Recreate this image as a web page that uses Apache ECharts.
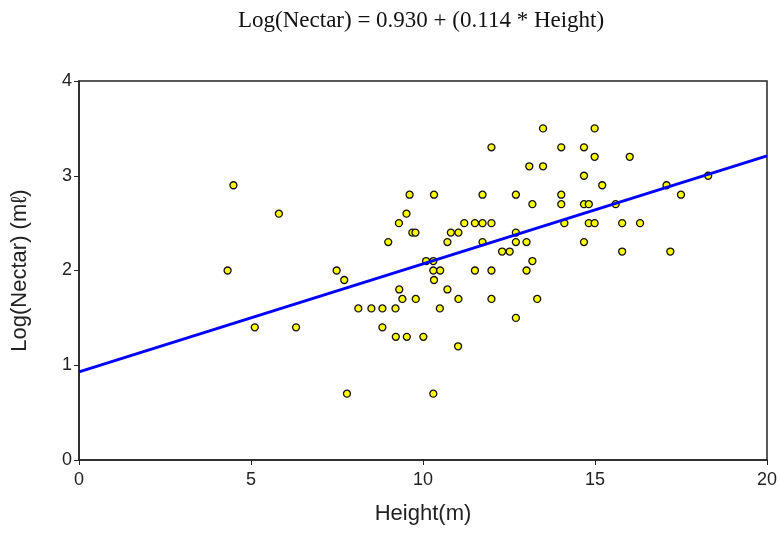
<!DOCTYPE html>
<html>
<head>
<meta charset="utf-8">
<script src="https://cdn.jsdelivr.net/npm/echarts@6/dist/echarts.min.js"></script>
<style>html,body{margin:0;padding:0;background:#fff}#c{width:780px;height:535px}</style>
</head>
<body>
<div id="c"></div>
<script>
var heights = [4.32,4.49,5.81,5.11,6.31,7.49,7.71,7.79,8.12,8.50,8.82,8.82,8.99,9.20,9.21,9.30,9.31,9.40,9.52,9.53,9.61,9.69,9.78,9.79,10.01,10.09,10.32,10.30,10.30,10.32,10.30,10.50,10.49,10.71,10.71,10.81,11.03,11.03,11.02,11.20,11.51,11.51,11.73,11.73,11.73,11.99,11.99,11.99,11.99,12.30,12.52,12.70,12.70,12.70,12.70,13.01,13.01,13.09,13.18,13.18,13.32,13.49,13.49,14.02,14.02,14.02,14.11,14.68,14.68,14.68,14.68,14.82,14.82,14.99,14.99,14.99,15.21,15.60,15.79,15.79,16.01,16.31,17.08,17.19,17.50,18.29];
var logNectar = [2.0,2.9,2.6,1.4,1.4,2.0,1.9,0.7,1.6,1.6,1.6,1.4,2.3,1.6,1.3,2.5,1.8,1.7,2.6,1.3,2.8,2.4,2.4,1.7,1.3,2.1,2.8,2.1,2.0,1.9,0.7,2.0,1.6,2.3,1.8,2.4,2.4,1.7,1.2,2.5,2.5,2.0,2.8,2.5,2.3,3.3,2.5,2.0,1.7,2.2,2.2,2.8,2.4,2.3,1.5,2.3,2.0,3.1,2.7,2.1,1.7,3.5,3.1,3.3,2.8,2.7,2.5,3.3,3.0,2.7,2.3,2.7,2.5,3.5,3.2,2.5,2.9,2.7,2.5,2.2,3.2,2.5,2.9,2.2,2.8,3.0];
var intercept = 0.930;
var slope = 0.114;
var xRange = [0, 20];
var yRange = [0, 4];
var titleText = 'Log(Nectar) = 0.930 + (0.114 * Height)';
var xName = 'Height(m)';
var yName = 'Log(Nectar) (m\u2113)';

var pts = heights.map(function(h, i){ return [h, logNectar[i]]; });
var fitLine = xRange.map(function(x){ return [x, intercept + slope * x]; });

var chart = echarts.init(document.getElementById('c'), null, {renderer:'canvas'});
var axisFont = {fontFamily:'Liberation Sans, Arial, sans-serif', fontSize:18, color:'#222'};
chart.setOption({
  animation:false,
  backgroundColor:'#fff',
  title:{
    text:titleText,
    left:233, top:4,
    textStyle:{fontFamily:'Liberation Serif, Times New Roman, serif', fontSize:23, fontWeight:'normal', color:'#111'}
  },
  grid:{left:79, right:13, top:81, bottom:75, show:true, borderColor:'#222', borderWidth:1.5, backgroundColor:'#fff'},
  xAxis:{
    type:'value', min:xRange[0], max:xRange[1], interval:5,
    name:xName, nameLocation:'middle', nameGap:43,
    nameTextStyle:{fontFamily:'Liberation Sans, Arial, sans-serif', fontSize:22, color:'#222'},
    axisLine:{show:true, lineStyle:{color:'#222', width:1.5}},
    axisTick:{show:true, length:5, lineStyle:{color:'#222'}},
    axisLabel:Object.assign({margin:11}, axisFont),
    splitLine:{show:false}
  },
  yAxis:{
    type:'value', min:yRange[0], max:yRange[1], interval:1,
    name:yName, nameLocation:'middle', nameGap:48, nameRotate:90,
    nameTextStyle:{fontFamily:'Liberation Sans, Arial, sans-serif', fontSize:22, color:'#222'},
    axisLine:{show:true, lineStyle:{color:'#222', width:1.5}},
    axisTick:{show:true, length:5, lineStyle:{color:'#222'}},
    axisLabel:Object.assign({margin:7}, axisFont),
    splitLine:{show:false}
  },
  series:[
    {
      type:'scatter', data:pts, symbol:'circle', symbolSize:7,
      itemStyle:{color:'#ffff00', borderColor:'#111', borderWidth:1.3, opacity:1},
      z:2
    },
    {
      type:'line', data:fitLine, showSymbol:false, symbol:'none',
      lineStyle:{color:'#0000ff', width:3},
      z:3
    }
  ]
});
</script>
</body>
</html>
